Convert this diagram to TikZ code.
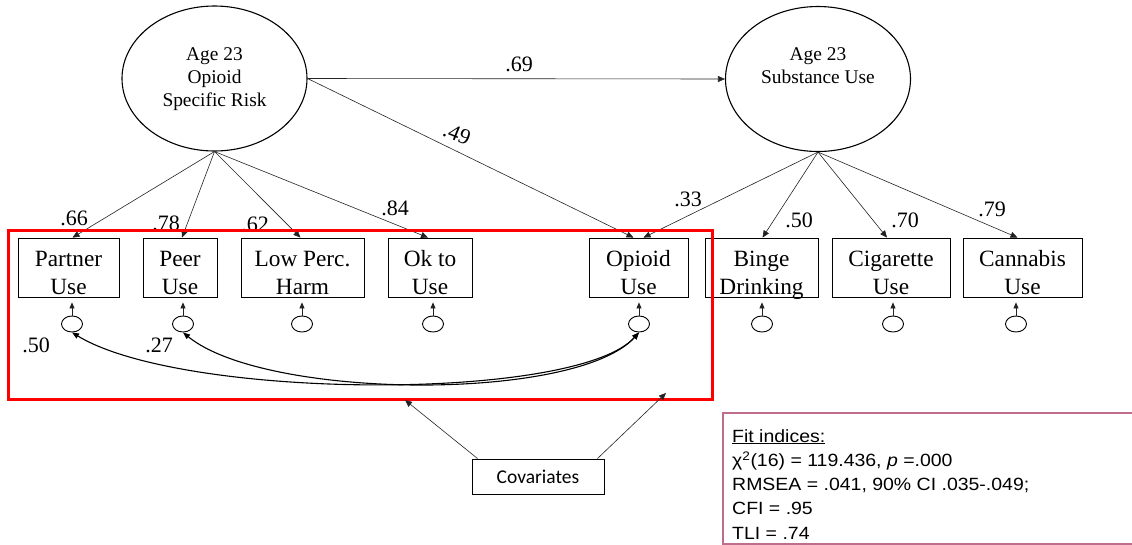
\documentclass[tikz,border=0pt]{standalone}
\usepackage{fontspec}
\setmainfont{Liberation Serif}
\newfontfamily\fitfont[FakeStretch=1.1]{Liberation Sans}
\newfontfamily\covfont{Carlito}
\usetikzlibrary{arrows.meta,shapes.geometric,calc}
\definecolor{fitborder}{RGB}{190,110,140}
\definecolor{ln}{RGB}{35,35,35}
\begin{document}
\begin{tikzpicture}[x=1pt,y=-1pt,
  lat/.style={draw, ellipse, line width=1.1pt, minimum width=185pt, minimum height=145pt, inner sep=0pt, align=center, font=\fontsize{19.4}{23}\selectfont},
  obs/.style={draw, line width=0.8pt, minimum height=59pt, inner sep=0pt},
  olab/.style={align=center, inner sep=0pt, yshift=-7pt, font=\fontsize{23.3}{28}\selectfont},
  err/.style={draw, ellipse, line width=0.9pt, minimum width=21pt, minimum height=16pt, inner sep=0pt},
  ld/.style={draw=ln, line width=0.6pt, -{Triangle[length=7pt,width=6pt]}},
  eld/.style={draw=ln, line width=0.7pt, -{Triangle[length=6pt,width=5pt]}, shorten >=5pt},
  corr/.style={draw=black, line width=1.1pt, {Triangle[length=7pt,width=5.5pt]}-{Triangle[length=7pt,width=5.5pt]}},
  coef/.style={font=\fontsize{22}{26}\selectfont, inner sep=0pt},
]
\useasboundingbox (0,0) rectangle (1132,544);
\clip (0,0) rectangle (1132,544);

% latent variables
\node[lat] (L1) at (214.5,78.5) {\strut Age 23\\\strut Opioid\\\strut Specific Risk};
\node[lat] (L2) at (818,79) {\strut Age 23\\\strut Substance Use\\\strut};

% observed indicators
\node[obs, minimum width=101pt, label={[olab]center:{\strut Partner\\\strut Use}}] (b1) at (68.5,267.5) {};
\node[obs, minimum width=74pt, label={[olab]center:{\strut Peer\\\strut Use}}] (b2) at (180,267.5) {};
\node[obs, minimum width=123pt, label={[olab]center:{\strut Low Perc.\\\strut Harm}}] (b3) at (302.5,267.5) {};
\node[obs, minimum width=84pt, label={[olab]center:{\strut Ok to\\\strut Use}}] (b4) at (430,267.5) {};
\node[obs, minimum width=99pt, label={[olab]center:{\strut Opioid\\\strut Use}}] (b5) at (638.5,267.5) {};
\node[obs, minimum width=113pt, label={[olab]center:{\strut Binge\\\strut Drinking}}] (b6) at (761.5,267.5) {};
\node[obs, minimum width=118pt, label={[olab]center:{\strut Cigarette\\\strut Use}}] (b7) at (891,267.5) {};
\node[obs, minimum width=119pt, label={[olab]center:{\strut Cannabis\\\strut Use}}] (b8) at (1022.5,267.5) {};

% error terms
\node[err] (e1) at (72,324) {};
\node[err] (e2) at (183,324) {};
\node[err] (e3) at (302,324) {};
\node[err] (e4) at (433,324) {};
\node[err] (e5) at (639,324) {};
\node[err] (e6) at (762,324) {};
\node[err] (e7) at (893,324) {};
\node[err] (e8) at (1016,324) {};

\foreach \i in {1,...,8}{
  \draw[eld] (e\i.north) -- (e\i.north |- b\i.south);
}

% loadings
\draw[ld] (L1.south) -- ($(b1.north)+(4,0)$);
\draw[ld] (L1.south) -- ($(b2.north)+(2,0)$);
\draw[ld] (L1.south) -- ($(b3.north)+(-2,0)$);
\draw[ld] (L1.south) -- ($(b4.north)+(-2,0)$);
\draw[ld] (L1.east) -- ($(b5.north)+(-5,0)$);
\draw[ld] (L2.south) -- ($(b5.north)+(5,0)$);
\draw[ld] (L2.south) -- ($(b6.north)+(1,0)$);
\draw[ld] (L2.south) -- ($(b7.north)+(-4,0)$);
\draw[ld] (L2.south) -- ($(b8.north)+(-5,0)$);
\draw[ld] (L1.east) -- (L2.west);

% coefficients
\node[coef] (k69) at (519,64) {.69};
\node[coef, rotate=-22] (k49) at (457,134) {.49};
\node[coef] (k66) at (74,218) {.66};
\node[coef] (k78) at (166,223) {.78};
\node[coef] (k62) at (255,224) {.62};
\node[coef] (k84) at (395,208) {.84};
\node[coef] (k33) at (688,199) {.33};
\node[coef] (k50) at (799,220) {.50};
\node[coef] (k70) at (905,220) {.70};
\node[coef] (k79) at (992,209) {.79};

% residual correlations
\draw[corr] (e1.south) .. controls (183,400) and (576,402) .. (e5.south);
\draw[corr] (e2.south) .. controls (266,400) and (576,402) .. (e5.south);
\node[coef] (r50) at (36,345) {.50};
\node[coef] (r27) at (159,345) {.27};

% group box
\node[draw=red, line width=3pt, minimum width=704pt, minimum height=169pt, inner sep=0pt] (grp) at (360,314.5) {};

% covariates
\node[draw, line width=0.8pt, minimum width=132pt, minimum height=35pt, inner sep=0pt, font=\covfont\fontsize{19.5}{22}\selectfont] (cov) at (538,476.5) {Covariates};
\coordinate (t1) at (405,400);
\coordinate (t2) at (666,393);
\draw[ld] ($(cov.north west)+(6,0)$) -- (t1);
\draw[ld] ($(cov.north east)+(-7,0)$) -- (t2);

% fit indices
\node[draw=fitborder, line width=1.5pt, anchor=north west, minimum width=430pt, minimum height=131pt, inner sep=0pt] (fit) at (722,412) {};
\node[anchor=north west, inner sep=0pt, align=left, font=\fitfont\fontsize{17.7}{24.3}\selectfont] (fittext) at (732,429)
  {\underline{Fit indices:}\\
   χ\textsuperscript{2}(16) = 119.436, \textit{p} =.000\\
   RMSEA = .041, 90\% CI .035-.049;\\
   CFI = .95\\
   TLI = .74};
\end{tikzpicture}
\end{document}
